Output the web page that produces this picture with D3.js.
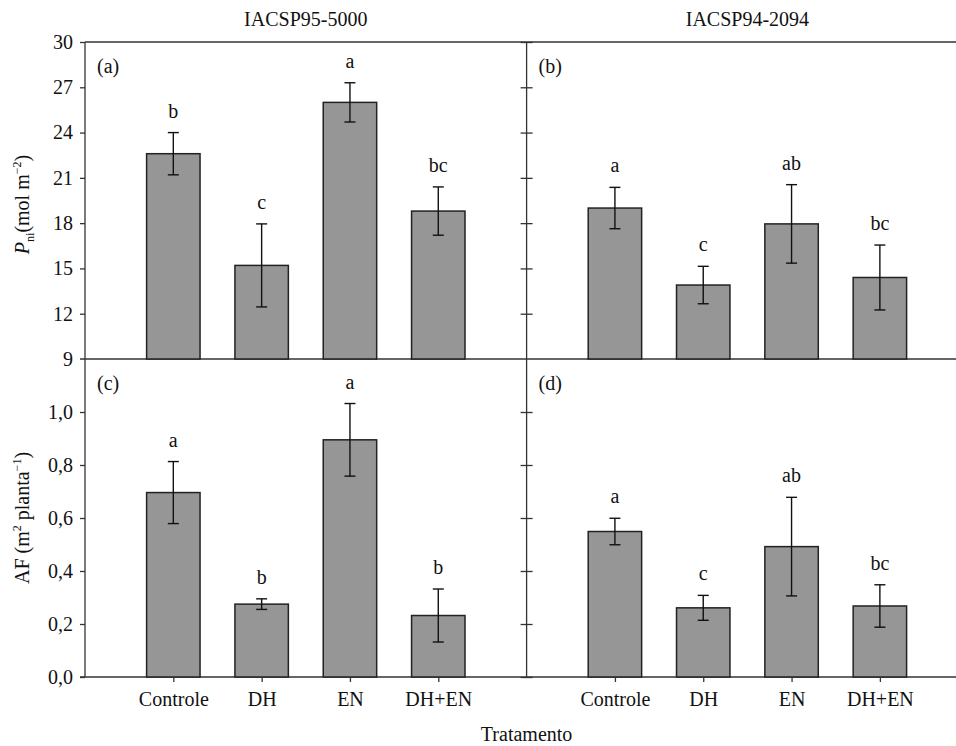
<!DOCTYPE html>
<html>
<head>
<meta charset="utf-8">
<script src="https://cdn.jsdelivr.net/npm/d3@7"></script>
<style>
  body { margin: 0; background: #fff; }
  text { font-family: "Liberation Serif", "Times New Roman", serif; fill: #111; }
</style>
</head>
<body>
<div id="chart"></div>
<script>
const treatments = ['Controle', 'DH', 'EN', 'DH+EN'];
const cultivars = ['IACSP95-5000', 'IACSP94-2094'];

// Pni (mol m-2)
const pniMean = [[22.6, 15.2, 26.0, 18.8], [19.0, 13.9, 17.95, 14.4]];
const pniErr = [[1.4, 2.75, 1.3, 1.6], [1.37, 1.24, 2.6, 2.15]];
const pniLetters = [['b', 'c', 'a', 'bc'], ['a', 'c', 'ab', 'bc']];

// AF (m2 planta-1)
const afMean = [[0.696, 0.275, 0.895, 0.232], [0.549, 0.261, 0.492, 0.268]];
const afErr = [[0.117, 0.02, 0.137, 0.1], [0.05, 0.047, 0.186, 0.08]];
const afLetters = [['a', 'b', 'a', 'b'], ['a', 'c', 'ab', 'bc']];

const pniTicks = [9, 12, 15, 18, 21, 24, 27, 30];
const afTicks = [0, 0.2, 0.4, 0.6, 0.8, 1.0];
const panelLabels = [['(a)', '(b)'], ['(c)', '(d)']];

const width = 956, height = 746;
const left = 85, panelW = 441.6;
const top1 = 42, mid = 359, bottom = 677;

const svg = d3.select('#chart').append('svg')
  .attr('width', width).attr('height', height);

const yPni = d3.scaleLinear().domain([9, 30]).range([mid, top1]);
const yAf = d3.scaleLinear().domain([0, 1.2]).range([bottom, mid]);

const rows = [
  { y: yPni, mean: pniMean, err: pniErr, letters: pniLetters, ticks: pniTicks, fmt: d => d },
  { y: yAf, mean: afMean, err: afErr, letters: afLetters, ticks: afTicks, fmt: d => d3.format('.1f')(d).replace('.', ',') }
];

// frame lines across both panels
[top1, mid, bottom].forEach((yy, i) => {
  svg.append('line')
    .attr('x1', i === 0 ? left : left - 5).attr('x2', width)
    .attr('y1', yy).attr('y2', yy)
    .attr('stroke', '#333').attr('stroke-width', 1.3);
});

rows.forEach((row, r) => {
  cultivars.forEach((cv, c) => {
    const x0 = left + c * panelW;
    const x = d3.scalePoint().domain(treatments).range([x0, x0 + panelW]).padding(1);
    const bw = x.step() * 0.605;
    const g = svg.append('g');

    // y axis
    const axis = d3.axisLeft(row.y).tickValues(row.ticks).tickSize(5).tickPadding(7)
      .tickFormat(c === 0 ? row.fmt : '');
    const ag = g.append('g').attr('transform', `translate(${x0},0)`).call(axis);
    ag.select('.domain').remove();
    ag.selectAll('.tick line').attr('stroke', '#333').attr('stroke-width', 1.3);
    if (c === 1) ag.selectAll('.tick line').attr('x1', -6).attr('x2', 6);
    if (r === 0) ag.selectAll('.tick').filter(d => d === 9).select('line').remove();
    ag.selectAll('.tick text').style('font-size', '20px').style('font-family', '"Liberation Serif", serif').attr('fill', '#111');
    g.append('line').attr('x1', x0).attr('x2', x0)
      .attr('y1', row.y.range()[1]).attr('y2', row.y.range()[0])
      .attr('stroke', '#333').attr('stroke-width', 1.3);

    // bars
    const data = treatments.map((t, i) => ({ t, m: row.mean[c][i], e: row.err[c][i], l: row.letters[c][i] }));
    g.selectAll('.bar').data(data).enter().append('rect')
      .attr('x', d => x(d.t) - bw / 2)
      .attr('y', d => row.y(d.m))
      .attr('width', bw)
      .attr('height', d => row.y.range()[0] - row.y(d.m))
      .attr('fill', '#969696').attr('stroke', '#222').attr('stroke-width', 1.5);

    // error bars
    const eb = g.selectAll('.err').data(data).enter().append('g');
    eb.append('line').attr('x1', d => x(d.t)).attr('x2', d => x(d.t))
      .attr('y1', d => row.y(d.m + d.e)).attr('y2', d => row.y(d.m - d.e));
    eb.append('line').attr('x1', d => x(d.t) - 5.5).attr('x2', d => x(d.t) + 5.5)
      .attr('y1', d => row.y(d.m + d.e)).attr('y2', d => row.y(d.m + d.e));
    eb.append('line').attr('x1', d => x(d.t) - 5.5).attr('x2', d => x(d.t) + 5.5)
      .attr('y1', d => row.y(d.m - d.e)).attr('y2', d => row.y(d.m - d.e));
    eb.selectAll('line').attr('stroke', '#111').attr('stroke-width', 1.4);

    // letters
    g.selectAll('.lett').data(data).enter().append('text')
      .attr('x', d => x(d.t)).attr('y', d => row.y(d.m + d.e) - 15)
      .attr('text-anchor', 'middle').style('font-size', '20px')
      .text(d => d.l);

    // panel label
    g.append('text').attr('x', x0 + 12).attr('y', row.y.range()[1] + 31)
      .style('font-size', '20px').text(panelLabels[r][c]);

    if (r === 0) {
      g.append('text').attr('x', x0 + panelW / 2).attr('y', 26)
        .attr('text-anchor', 'middle').style('font-size', '20px').text(cv);
    }
    if (r === 1) {
      const xa = d3.axisBottom(x).tickSize(5).tickPadding(10);
      const xg = g.append('g').attr('transform', `translate(0,${bottom})`).call(xa);
      xg.select('.domain').remove();
      xg.selectAll('.tick line').attr('stroke', '#333').attr('stroke-width', 1.3);
      xg.selectAll('.tick text').style('font-size', '20px').style('font-family', '"Liberation Serif", serif').attr('fill', '#111');
    }
  });
});

// axis titles
const yt1 = svg.append('text').attr('transform', `translate(29,${(top1 + mid) / 2 + 4}) rotate(-90)`)
  .attr('text-anchor', 'middle').style('font-size', '20px');
yt1.append('tspan').style('font-style', 'italic').text('P');
yt1.append('tspan').attr('dy', 5).style('font-size', '12px').text('ni');
yt1.append('tspan').attr('dy', -5).text('(mol m');
yt1.append('tspan').attr('dy', -8).style('font-size', '12px').text('−2');
yt1.append('tspan').attr('dy', 8).text(')');

const yt2 = svg.append('text').attr('transform', `translate(29,${(mid + bottom) / 2}) rotate(-90)`)
  .attr('text-anchor', 'middle').style('font-size', '20px');
yt2.append('tspan').text('AF (m');
yt2.append('tspan').attr('dy', -8).style('font-size', '12px').text('2');
yt2.append('tspan').attr('dy', 8).text(' planta');
yt2.append('tspan').attr('dy', -8).style('font-size', '12px').text('−1');
yt2.append('tspan').attr('dy', 8).text(')');

svg.append('text').attr('x', left + panelW).attr('y', 741)
  .attr('text-anchor', 'middle').style('font-size', '20px').text('Tratamento');
</script>
</body>
</html>
